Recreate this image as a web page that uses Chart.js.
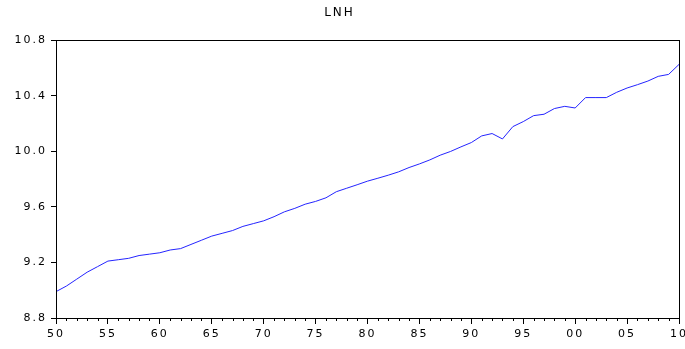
<!DOCTYPE html>
<html>
<head>
<meta charset="utf-8">
<script src="https://cdn.jsdelivr.net/npm/chart.js@4/dist/chart.umd.min.js"></script>
<style>
  html, body { margin: 0; padding: 0; background: #fff; }
  canvas { display: block; }
</style>
</head>
<body>
<canvas id="lnhChart" width="685" height="349"></canvas>
<script>
// LNH series, 1950 - 2010
const years = [];
for (let y = 1950; y <= 2010; y++) years.push(y);

const lnh = [
    8.99, 9.03, 9.08, 9.13, 9.17, 9.21, 9.22, 9.23, 9.25, 9.26,
    9.27, 9.29, 9.30, 9.33, 9.36, 9.39, 9.41, 9.43, 9.46, 9.48,
    9.50, 9.53, 9.565, 9.59, 9.62, 9.64, 9.666, 9.71, 9.735, 9.76,
    9.786, 9.807, 9.829, 9.853, 9.884, 9.91, 9.939, 9.973, 10.0, 10.033,
    10.064, 10.112, 10.129, 10.09, 10.179, 10.215, 10.258, 10.268, 10.309, 10.325,
    10.313, 10.388, 10.388, 10.388, 10.426, 10.457, 10.481, 10.507, 10.541, 10.555,
    10.627
];

const yTicks = [8.8, 9.2, 9.6, 10.0, 10.4, 10.8];
const xTicks = [1950, 1955, 1960, 1965, 1970, 1975, 1980, 1985, 1990, 1995, 2000, 2005, 2010];

const FONT = "'DejaVu Sans', sans-serif";

// wide EViews-like lettering
const spacing = {
    id: 'spacing',
    beforeLayout(chart) { chart.ctx.letterSpacing = '2px'; },
    beforeDraw(chart) { chart.ctx.letterSpacing = '2px'; }
};

// frame around the plot + minor yearly ticks on the x axis
const frame = {
    id: 'frame',
    afterDraw(chart) {
        const { ctx, chartArea: a, scales } = chart;
        ctx.save();
        ctx.strokeStyle = '#000';
        ctx.lineWidth = 1;
        ctx.strokeRect(Math.round(a.left) + 0.5, Math.round(a.top) + 0.5,
            Math.round(a.right - a.left), Math.round(a.bottom - a.top));
        ctx.beginPath();
        years.forEach(yr => {
            if (yr % 5 === 0) return;
            const x = Math.round(scales.x.getPixelForValue(yr)) + 0.5;
            ctx.moveTo(x, a.bottom);
            ctx.lineTo(x, a.bottom + 3);
        });
        ctx.stroke();
        ctx.restore();
    }
};

new Chart(document.getElementById('lnhChart'), {
    type: 'line',
    data: {
        datasets: [{
            label: 'LNH',
            data: years.map((yr, i) => ({ x: yr, y: lnh[i] })),
            borderColor: '#2424ff',
            borderWidth: 1,
            pointRadius: 0,
            tension: 0,
            fill: false
        }]
    },
    options: {
        responsive: false,
        animation: false,
        layout: { padding: { left: 0, right: 6, top: 0, bottom: 0 } },
        plugins: {
            legend: { display: false },
            tooltip: { enabled: false },
            title: {
                display: true,
                text: 'LNH',
                color: '#000',
                font: { family: FONT, size: 12, weight: 'normal' },
                padding: { top: 6, bottom: 20 }
            }
        },
        scales: {
            x: {
                type: 'linear',
                min: 1950,
                max: 2010,
                afterBuildTicks: s => { s.ticks = xTicks.map(v => ({ value: v })); },
                // let the last label run off the edge like the original
                afterFit: s => { s.height = 31; s.paddingRight = 0; s.paddingLeft = 0; },
                ticks: {
                    color: '#000',
                    padding: 4,
                    maxRotation: 0,
                    font: { family: FONT, size: 11 },
                    callback: v => String(v % 100).padStart(2, '0')
                },
                grid: { drawOnChartArea: false, tickLength: 6, color: '#000' },
                border: { color: '#000' }
            },
            y: {
                min: 8.8,
                max: 10.8,
                afterBuildTicks: s => { s.ticks = yTicks.map(v => ({ value: v })); },
                afterFit: s => { s.width = 56; },
                ticks: {
                    color: '#000',
                    padding: 4,
                    font: { family: FONT, size: 11 },
                    callback: v => v.toFixed(1)
                },
                grid: { drawOnChartArea: false, tickLength: 5, color: '#000' },
                border: { color: '#000' }
            }
        }
    },
    plugins: [spacing, frame]
});
</script>
</body>
</html>
